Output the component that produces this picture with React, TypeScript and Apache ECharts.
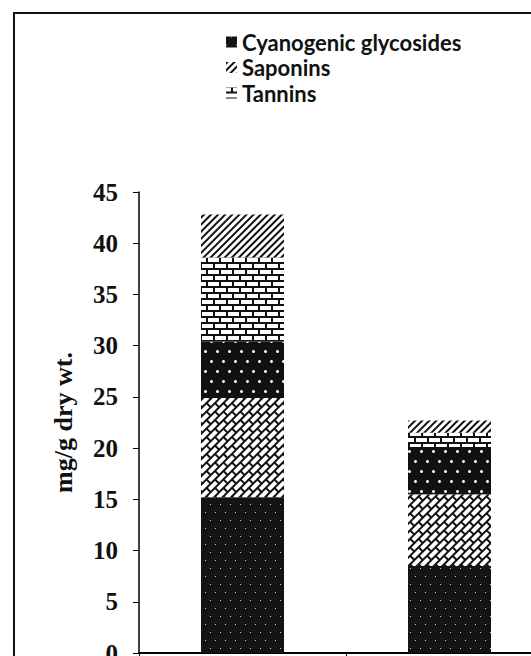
import React, { useEffect, useRef } from "react";
import * as echarts from "echarts";

const categories = ["Sample 1", "Sample 2"];
const cyanogenic = [15.2, 8.5];
const seriesD = [9.7, 7.0];
const seriesE = [5.5, 4.6];
const tannins = [8.2, 1.4];
const saponins = [4.2, 1.2];
const legendNames = ["Cyanogenic glycosides", "Saponins", "Tannins"];
const yTicks = { min: 0, max: 45, interval: 5 };

export default function App() {
  const ref = useRef<HTMLDivElement>(null);
  useEffect(() => {
    const chart = echarts.init(ref.current!, null, { renderer: "svg" });
    const barW = 83;
    const option: any = {
      animation: false,
      backgroundColor: "#fff",
      grid: { left: 139, top: 192, width: 414, height: 461, outerBoundsMode: "none", containLabel: false },
      legend: {
        data: legendNames,
        orient: "vertical",
        left: 221,
        top: 26,
        icon: "rect",
        itemWidth: 11,
        itemHeight: 11,
        itemGap: 3.5,
        textStyle: {
          fontFamily: "Lato",
          fontWeight: "bold",
          fontSize: 22,
          lineHeight: 22,
          color: "#111",
        },
      },
      xAxis: {
        type: "category",
        data: categories,
        axisLine: { lineStyle: { color: "#000", width: 2 } },
        axisTick: { show: true, length: 5, lineStyle: { color: "#000" } },
        axisLabel: { show: false },
      },
      yAxis: {
        type: "value",
        min: yTicks.min,
        max: yTicks.max,
        interval: yTicks.interval,
        name: "mg/g dry wt.",
        nameLocation: "middle",
        nameGap: 63,
        nameTextStyle: {
          fontFamily: "Liberation Serif",
          fontWeight: "bold",
          fontSize: 26,
          color: "#111",
        },
        axisLine: { show: true, lineStyle: { color: "#000", width: 1.5 } },
        axisTick: { show: true, length: 6, lineStyle: { color: "#000" } },
        splitLine: { show: false },
        axisLabel: {
          margin: 21,
          fontFamily: "Liberation Serif",
          fontWeight: "bold",
          fontSize: 25,
          color: "#111",
        },
      },
      series: [
        {
          name: "Cyanogenic glycosides",
          type: "bar",
          stack: "s",
          barWidth: barW,
          data: cyanogenic,
          itemStyle: {
            color: "#141414",
            decal: {
              symbol: "rect",
              color: "#cfcfcf",
              symbolSize: 1,
              dashArrayX: [[1, 9], [0, 5, 1, 4]],
              dashArrayY: [1, 7],
            },
          },
        },
        {
          name: "Series D",
          type: "bar",
          stack: "s",
          barWidth: barW,
          data: seriesD,
          itemStyle: {
            color: "#111",
            decal: {
              symbol: "rect",
              color: "#fff",
              symbolSize: 1,
              dashArrayX: [[10, 2], [4, 2, 6, 0]],
              dashArrayY: [4, 2],
              rotation: -Math.PI / 4,
            },
          },
        },
        {
          name: "Series E",
          type: "bar",
          stack: "s",
          barWidth: barW,
          data: seriesE,
          itemStyle: {
            color: "#111",
            decal: {
              symbol: "circle",
              color: "#fff",
              symbolSize: 1,
              dashArrayX: [[3, 9], [0, 6, 3, 3]],
              dashArrayY: [3, 7],
            },
          },
        },
        {
          name: "Tannins",
          type: "bar",
          stack: "s",
          barWidth: barW,
          data: tannins,
          itemStyle: {
            color: "#111",
            decal: {
              symbol: "rect",
              color: "#fff",
              symbolSize: 1,
              dashArrayX: [[11, 2], [5, 2, 6, 0]],
              dashArrayY: [4, 2],
            },
          },
        },
        {
          name: "Saponins",
          type: "bar",
          stack: "s",
          barWidth: barW,
          data: saponins,
          itemStyle: {
            color: "#fff",
            decal: {
              symbol: "rect",
              color: "#111",
              symbolSize: 1,
              dashArrayX: [10, 0],
              dashArrayY: [2, 3],
              rotation: -Math.PI / 4,
            },
          },
        },
      ],
      graphic: [
        {
          type: "rect",
          shape: { x: 14, y: 13, width: 700, height: 800 },
          style: { fill: "none", stroke: "#111", lineWidth: 2 },
          silent: true,
        },
      ],
    };
    chart.setOption(option);
    return () => chart.dispose();
  }, []);
  return (
    <div
      ref={ref}
      style={{ position: "absolute", left: 0, top: 0, width: 531, height: 656 }}
    />
  );
}
